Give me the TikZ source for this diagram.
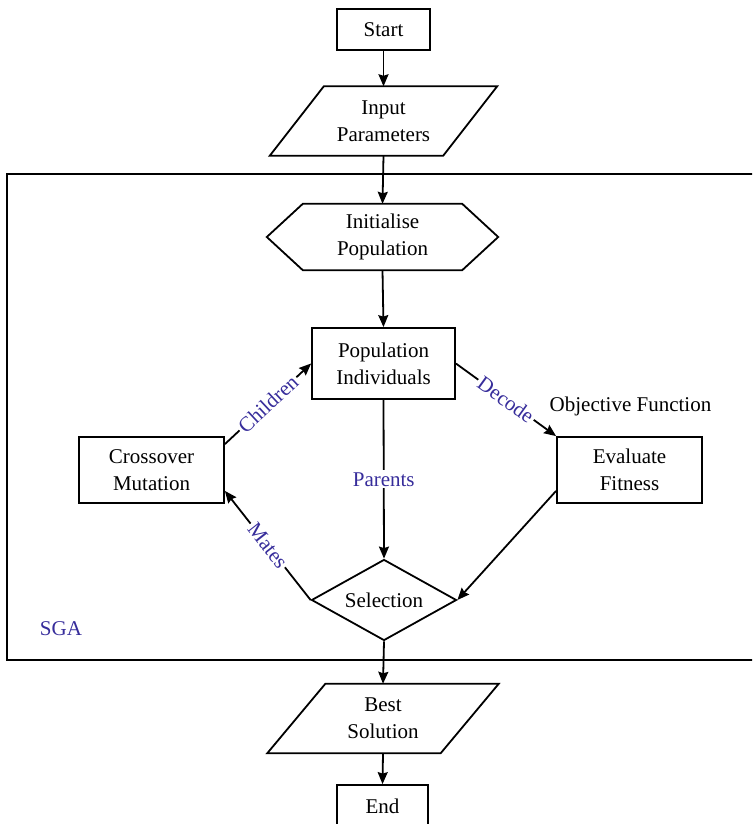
\documentclass[tikz,border=0pt]{standalone}
\usepackage{fontspec}
\setmainfont{Liberation Serif}
\usetikzlibrary{shapes.geometric,arrows.meta}
\definecolor{labelblue}{RGB}{55,45,155}

\begin{document}
\begin{tikzpicture}[x=1pt,y=-1pt]

    \tikzset{
      every node/.style={font=\rmfamily\fontsize{21}{27}\selectfont},
      box/.style={
        draw,
        line width=1.8pt,
        align=center,
        inner sep=0pt,
      },
      plainbox/.style={align=center, inner sep=0pt},
      decision/.style={
        draw,
        diamond,
        aspect=1.8,
        line width=1.8pt,
        inner sep=0pt,
        minimum width=145pt,
        minimum height=81pt,
      },
      outline/.style={line width=1.8pt, line join=miter},
      flow/.style={line width=1.8pt, -{Stealth[length=12pt,width=10pt,inset=1.5pt]}},
      edgelabel/.style={midway, fill=white, text=labelblue, inner sep=2pt},
    }
    \useasboundingbox (0,0) rectangle (752,824);
    \clip (0,0) rectangle (752,824);

	% SGA frame
	\draw[outline] (7,174) rectangle (770,660);
	\node[text=labelblue] (sga) at (61,629) {SGA};

	\node[box, minimum width=93pt, minimum height=41pt] (start) at (383.5,29.5) {Start};

	\node[plainbox, minimum width=173pt, minimum height=69pt] (input) at (383.5,121) {Input\\Parameters};
	\draw[outline] ([xshift=27pt]input.north west) -- ([xshift=27pt]input.north east) -- ([xshift=-27pt]input.south east) -- ([xshift=-27pt]input.south west) -- cycle;

	\node[plainbox, minimum width=159pt, minimum height=66pt] (init) at (382.5,237) {Initialise\\Population};
	\draw[outline] (init.north west) -- (init.north east) -- ([xshift=36pt]init.east) -- (init.south east) -- (init.south west) -- ([xshift=-36pt]init.west) -- cycle;

	\node[box, minimum width=143pt, minimum height=71pt] (pop) at (383.5,363.5) {Population\\Individuals};
	\node[box, minimum width=145pt, minimum height=66pt] (eval) at (629.5,470) {Evaluate\\Fitness};
	\node[box, minimum width=145pt, minimum height=66pt] (cross) at (151.5,470) {Crossover\\Mutation};
	\node (objfn) at (630.5,406) {Objective Function};
	\node[decision] (sel) at (384,600) {Selection};

	\node[plainbox, minimum width=173pt, minimum height=69pt] (best) at (383,718.5) {Best\\Solution};
	\draw[outline] ([xshift=29pt]best.north west) -- ([xshift=29pt]best.north east) -- ([xshift=-29pt]best.south east) -- ([xshift=-29pt]best.south west) -- cycle;

	\node[box, minimum width=91pt, minimum height=43pt] (end) at (382.5,806.5) {End};

	% connectors
	\draw[flow] (start.south) -- (input.north);
	\draw[flow] (input.south) -- (init.north);
	\draw[flow] (init.south) -- (pop.north);
	\draw[flow] (pop.south) -- node[edgelabel] {Parents} (sel.north);
	\draw[flow] (pop.east) -- node[edgelabel, sloped] {Decode} (eval.north west);
	\draw[flow] ([yshift=13pt]eval.south west) -- (sel.east);
	\draw[flow] (sel.west) -- node[edgelabel, sloped] {Mates} ([yshift=13pt]cross.south east);
	\draw[flow] ([yshift=-8pt]cross.north east) -- node[edgelabel, sloped] {Children} (pop.west);
	\draw[flow] (sel.south) -- (best.north);
	\draw[flow] (best.south) -- (end.north);

\end{tikzpicture}
\end{document}
